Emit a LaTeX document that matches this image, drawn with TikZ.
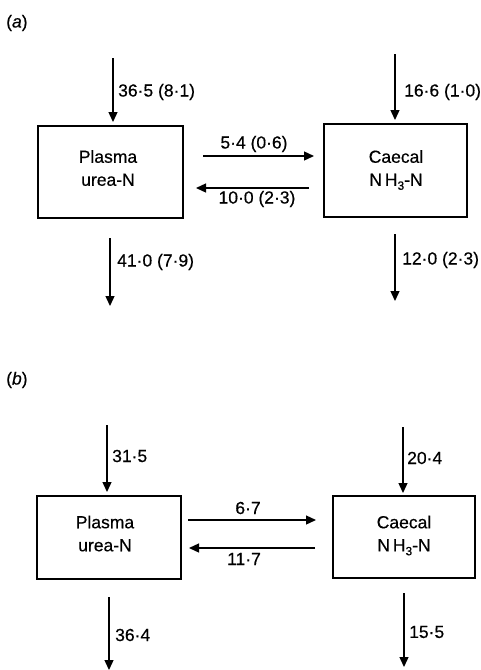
\documentclass[tikz,border=0pt]{standalone}
\usepackage{fontspec}
\setmainfont{Liberation Sans}[FakeBold=0.4]
\usetikzlibrary{arrows.meta}
\newcommand{\subthree}{\raisebox{-4pt}{\fontsize{12}{12}\selectfont 3}}
\begin{document}
\begin{tikzpicture}[x=1pt,y=-1pt,
  every node/.style={font=\fontsize{17.5}{21}\selectfont, inner sep=0pt},
  pool/.style={draw, line width=1.4pt},
  intext/.style={align=center, font=\fontsize{17.5}{23}\selectfont},
  flow/.style={line width=1.3pt, -{Triangle[length=10pt,width=9pt]}},
  lbl/.style={anchor=west}]
\useasboundingbox (0,0) rectangle (480,670);
% ---------- (a) ----------
\node[anchor=west] (ta) at (6,23) {(\textit{a})};
\node[pool, minimum width=145pt, minimum height=92pt] (pa) at (110.5,172) {};
\node[pool, minimum width=143pt, minimum height=93pt] (ca) at (395.5,170.5) {};
\node[intext] (pat) at (108,168) {Plasma\\urea-N};
\node[intext] (cat) at (396,170) {Caecal\\N\,H\subthree-N};
\coordinate (pain) at (113,58);  \coordinate (paint) at (113,122);
\coordinate (cain) at (395,54);  \coordinate (caint) at (395,120);
\coordinate (paout) at (110,238); \coordinate (paoutt) at (110,306);
\coordinate (caout) at (395,234); \coordinate (caoutt) at (395,301);
\coordinate (ar1) at (203,156); \coordinate (ar2) at (314,156);
\coordinate (al1) at (309,188); \coordinate (al2) at (196,188);
\draw[flow] (pain) -- (paint);
\draw[flow] (cain) -- (caint);
\draw[flow] (paout) -- (paoutt);
\draw[flow] (caout) -- (caoutt);
\draw[flow] (ar1) -- (ar2);
\draw[flow] (al1) -- (al2);
\node[lbl] (la1) at (118,92) {36·5 (8·1)};
\node[lbl] (la2) at (404,92) {16·6 (1·0)};
\node[lbl] (la3) at (117,262) {41·0 (7·9)};
\node[lbl] (la4) at (402,260) {12·0 (2·3)};
\node (la5) at (254,144) {5·4 (0·6)};
\node (la6) at (257,199) {10·0 (2·3)};
% ---------- (b) ----------
\node[anchor=west] (tb) at (6,380) {(\textit{b})};
\node[pool, minimum width=144pt, minimum height=83pt] (pb) at (109,537.5) {};
\node[pool, minimum width=142pt, minimum height=82pt] (cb) at (404,537) {};
\node[intext] (pbt) at (105,533.5) {Plasma\\urea-N};
\node[intext] (cbt) at (404,535.5) {Caecal\\N\,H\subthree-N};
\coordinate (pbin) at (107,425);  \coordinate (pbint) at (107,492);
\coordinate (cbin) at (403,427);  \coordinate (cbint) at (403,493);
\coordinate (pbout) at (109,597); \coordinate (pboutt) at (109,670);
\coordinate (cbout) at (404,593); \coordinate (cboutt) at (404,667);
\coordinate (br1) at (188,520); \coordinate (br2) at (316,520);
\coordinate (bl1) at (315,548); \coordinate (bl2) at (189,548);
\draw[flow] (pbin) -- (pbint);
\draw[flow] (cbin) -- (cbint);
\draw[flow] (pbout) -- (pboutt);
\draw[flow] (cbout) -- (cboutt);
\draw[flow] (br1) -- (br2);
\draw[flow] (bl1) -- (bl2);
\node[lbl] (lb1) at (112,456) {31·5};
\node[lbl] (lb2) at (407,458) {20·4};
\node[lbl] (lb3) at (115,635) {36·4};
\node[lbl] (lb4) at (409,632) {15·5};
\node (lb5) at (248,508) {6·7};
\node (lb6) at (244,559) {11·7};
\end{tikzpicture}
\end{document}
